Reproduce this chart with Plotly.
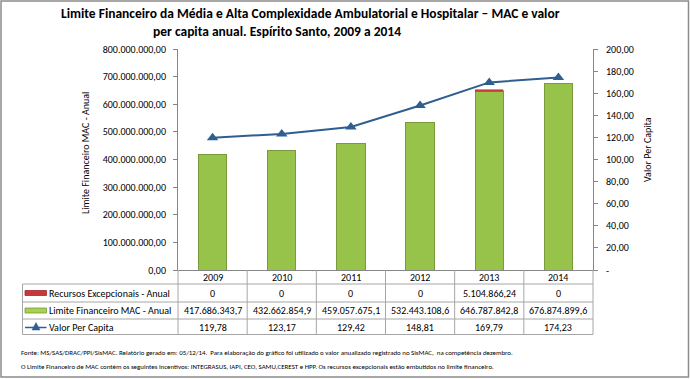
import plotly.graph_objects as go

# ---------------- data ----------------
anos = ["2009", "2010", "2011", "2012", "2013", "2014"]
recursos_excepcionais = [0, 0, 0, 0, 5104866.24, 0]
limite_financeiro = [417686343.7, 432662854.9, 459057675.1, 532443108.6, 646787842.8, 676874899.6]
valor_per_capita = [119.78, 123.17, 129.42, 148.81, 169.79, 174.23]

left_ticks = [0, 100e6, 200e6, 300e6, 400e6, 500e6, 600e6, 700e6, 800e6]
right_ticks = [0, 20, 40, 60, 80, 100, 120, 140, 160, 180, 200]

serie_nomes = ["Recursos Excepcionais - Anual", "Limite Financeiro MAC - Anual", "Valor Per Capita"]

titulo_linhas = ["Limite Financeiro da Média e Alta Complexidade Ambulatorial e Hospitalar – MAC e valor",
                 "per capita anual. Espírito Santo, 2009 a 2014"]
fonte_linhas = [
    "Fonte: MS/SAS/DRAC/PPI/SisMAC. Relatório gerado em: 05/12/14.  Para elaboração do gráfico foi utilizado o valor anualizado registrado no SisMAC,  na competência dezembro.",
    "O Limite Financeiro de MAC contém os seguintes incentivos: INTEGRASUS, IAPI, CEO, SAMU,CEREST e HPP. Os recursos excepcionais estão embutidos no limite financeiro.",
]


def br(v, dec):
    s = f"{v:,.{dec}f}"
    return s.replace(",", "X").replace(".", ",").replace("X", ".")


# ---------------- layout geometry ----------------
W, H = 690, 379
L, R, T, B = 178, 593, 49, 270  # plot area pixels
FONT = "Calibri, Carlito, 'Liberation Sans Narrow', 'DejaVu Sans Condensed', 'Arial Narrow', 'Liberation Sans', sans-serif"
GRID = "#A6A6A6"
AXIS = "#868686"
TXT = "#000000"


def px(x):
    return (x - L) / (R - L)


def py(y):
    return (B - y) / (B - T)


GREEN = "#98C34A"
GREEN_LINE = "#7A9A3C"
RED = "#C8383B"
BLUE = "#2F5E91"

fig = go.Figure()
fig.add_trace(go.Bar(x=anos, y=limite_financeiro, name=serie_nomes[1], width=0.41,
                     marker=dict(color=GREEN, line=dict(color=GREEN_LINE, width=1))))
fig.add_trace(go.Bar(x=anos, y=recursos_excepcionais, name=serie_nomes[0], width=0.41,
                     marker=dict(color=RED, line=dict(color=RED,
                                                      width=[0 if v == 0 else 0.6 for v in recursos_excepcionais]))))
fig.add_trace(go.Scatter(x=anos, y=valor_per_capita, name=serie_nomes[2], yaxis="y2",
                         mode="lines+markers",
                         line=dict(color=BLUE, width=2),
                         marker=dict(symbol="triangle-up", size=10, color=BLUE)))

shapes = []
annotations = []


def txt(x, y, s, size=10, xa="center", ya="middle", bold=False, angle=0):
    annotations.append(dict(x=px(x), y=py(y), xref="paper", yref="paper",
                            text=("<b>%s</b>" % s) if bold else s,
                            showarrow=False, xanchor=xa, yanchor=ya, textangle=angle,
                            borderpad=0,
                            font=dict(size=size, family=FONT, color=TXT)))


# outer border
shapes.append(dict(type="rect", xref="paper", yref="paper",
                   x0=px(1), x1=px(688.5), y0=py(377), y1=py(1),
                   line=dict(color="#8C8C8C", width=1.5), fillcolor="rgba(0,0,0,0)"))

# ---- data table ----
n = len(anos)
colw = (R - L) / n
row_lines = [284, 302, 319, 334.5]
TL = 22.5
for yl in row_lines:
    shapes.append(dict(type="line", xref="paper", yref="paper", x0=px(TL), x1=px(R),
                       y0=py(yl), y1=py(yl), line=dict(color=GRID, width=1)))
shapes.append(dict(type="line", xref="paper", yref="paper", x0=px(TL), x1=px(TL),
                   y0=py(284), y1=py(334.5), line=dict(color=GRID, width=1)))
for k in range(n + 1):
    xk = L + k * colw
    shapes.append(dict(type="line", xref="paper", yref="paper", x0=px(xk), x1=px(xk),
                       y0=py(B), y1=py(334.5), line=dict(color=GRID, width=1)))

row_y = [293, 310.5, 327]
rows_text = [
    ["0" if v == 0 else br(v, 2) for v in recursos_excepcionais],
    [br(v, 1) for v in limite_financeiro],
    [br(v, 2) for v in valor_per_capita],
]
for i, a in enumerate(anos):
    xc = L + (i + 0.5) * colw
    txt(xc, 277.5, a)
    for r in range(3):
        txt(xc, row_y[r], rows_text[r][i])

# legend keys in table
for r, nome in enumerate(serie_nomes):
    txt(47.5, row_y[r], nome, xa="left")
shapes.append(dict(type="rect", xref="paper", yref="paper", x0=px(25), x1=px(46.5),
                   y0=py(295.5), y1=py(290.5), line=dict(color="#9E2A2C", width=0.8), fillcolor=RED))
shapes.append(dict(type="rect", xref="paper", yref="paper", x0=px(25), x1=px(46.5),
                   y0=py(313), y1=py(308), line=dict(color=GREEN_LINE, width=0.8), fillcolor="#A9D050"))
shapes.append(dict(type="line", xref="paper", yref="paper", x0=px(25), x1=px(46.5),
                   y0=py(327.5), y1=py(327.5), line=dict(color=BLUE, width=1.5)))
shapes.append(dict(type="path", xref="paper", yref="paper",
                   path=f"M {px(32)},{py(330)} L {px(40)},{py(330)} L {px(36)},{py(322.5)} Z",
                   line=dict(color=BLUE, width=0.5), fillcolor=BLUE))

# title
txt(60, 14, titulo_linhas[0], size=13.5, bold=True, xa="left")
txt(152, 31, titulo_linhas[1], size=13.5, bold=True, xa="left")

# axis titles
txt(85, 153, "Limite Financeiro MAC - Anual", angle=-90)
txt(647, 150, "Valor Per Capita", angle=-90)

# footnote
txt(20, 352, fonte_linhas[0], size=6.9, xa="left")
txt(20, 366, fonte_linhas[1], size=6.9, xa="left")

fig.update_layout(
    width=W, height=H,
    margin=dict(l=L, r=W - R, t=T, b=H - B, pad=0),
    paper_bgcolor="white", plot_bgcolor="white",
    barmode="stack",
    showlegend=False,
    font=dict(family=FONT, size=10, color=TXT),
    xaxis=dict(type="category", range=[-0.5, n - 0.5], showticklabels=False, ticks="",
               showgrid=False, showline=True, linecolor=AXIS, linewidth=1, zeroline=False,
               fixedrange=True),
    yaxis=dict(range=[0, 800e6], tickvals=left_ticks,
               ticktext=[br(v, 2) for v in left_ticks],
               ticks="outside", ticklen=4, tickcolor=AXIS, showgrid=False,
               showline=True, linecolor=AXIS, linewidth=1, zeroline=False,
               ticklabelstandoff=5,
               tickfont=dict(size=10, family=FONT, color=TXT)),
    yaxis2=dict(range=[0, 200], overlaying="y", side="right", tickvals=right_ticks,
                ticktext=["-" if v == 0 else br(v, 2) for v in right_ticks],
                ticks="outside", ticklen=4, tickcolor=AXIS, showgrid=False,
                showline=True, linecolor=AXIS, linewidth=1, zeroline=False,
                ticklabelstandoff=6,
                tickfont=dict(size=10, family=FONT, color=TXT)),
    shapes=shapes,
    annotations=annotations,
)

fig.write_html("out.html", config={"displayModeBar": False},
               post_script="document.body.style.margin='0';")
